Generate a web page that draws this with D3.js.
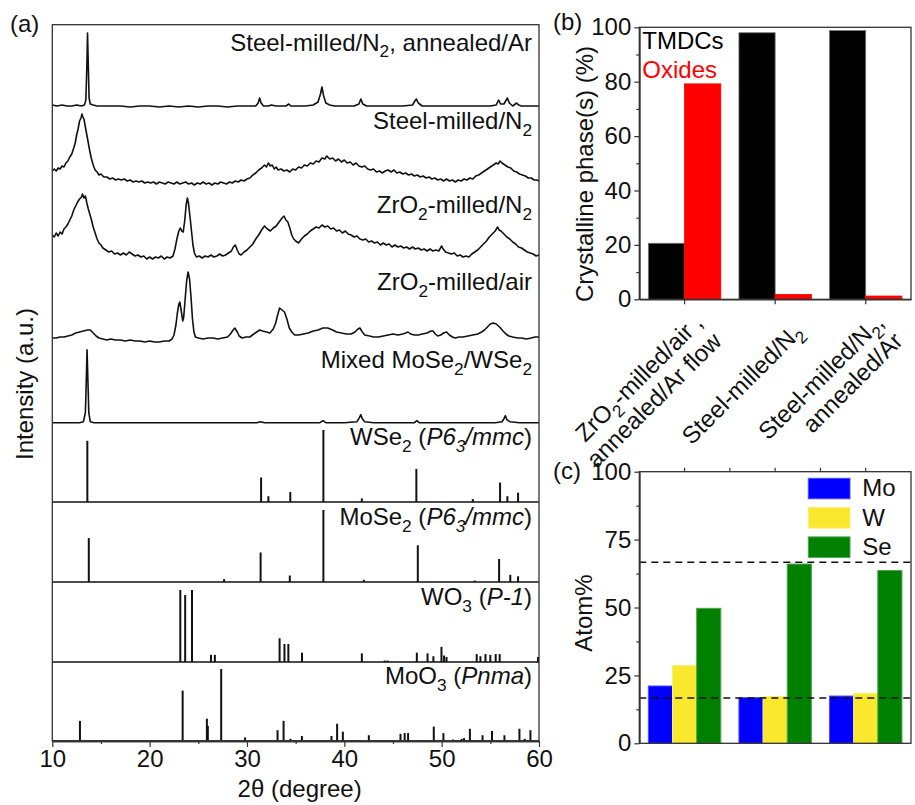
<!DOCTYPE html>
<html>
<head>
<meta charset="utf-8">
<script src="https://cdn.jsdelivr.net/npm/d3@7"></script>
<style>
  body { margin: 0; background: #fff; }
  svg { font-family: 'Liberation Sans', Arial, sans-serif; }
</style>
</head>
<body>
<div id="chart"></div>
<script>
// ---- (a) XRD patterns, [2theta, intensity a.u. above the trace's own baseline]
const annealedAr = [[10.0,1],[10.5,0],[11.0,1],[11.5,0],[12.0,0],[12.5,1],[13.0,0],[13.3,1],[13.45,6],[13.55,40],[13.62,73],[13.7,40],[13.78,8],[13.9,2],[14.2,1],[14.6,0],[15.0,0],[16.0,0],[17.0,0],[18.0,-1],[19.0,0],[20.0,0],[21.0,-1],[22.0,0],[23.0,-1],[24.0,0],[25.0,-1],[26.0,0],[27.0,0],[28.0,-1],[29.0,0],[30.0,0],[30.9,0],[31.15,3],[31.3,8],[31.45,3],[31.7,0],[32.2,0],[32.5,1],[33.0,0],[34.0,0],[34.3,2],[34.5,0],[35.0,0],[36.0,0],[36.8,1],[37.3,4],[37.55,12],[37.7,19],[37.85,11],[38.1,3],[38.5,1],[39.0,0],[40.0,0],[41.0,0],[41.5,2],[41.7,7],[41.9,2],[42.3,0],[43.0,0],[44.0,0],[45.0,0],[46.0,0],[47.0,1],[47.25,5],[47.4,7],[47.6,3],[48.0,0],[49.0,0],[50.0,0],[51.0,0],[52.0,0],[53.0,0],[54.0,0],[55.0,0],[55.6,1],[55.85,6],[56.05,2],[56.4,2],[56.75,8],[56.95,3],[57.3,0],[57.7,3],[57.9,1],[58.2,0],[59.0,0],[60.0,0]]

const steelN2 = [[10.0,10],[10.2,12],[10.4,10],[10.6,13],[10.8,12],[11.0,15],[11.2,14],[11.4,18],[11.6,20],[11.8,24],[12.0,27],[12.2,33],[12.35,38],[12.5,46],[12.65,52],[12.8,60],[12.95,63],[13.05,67],[13.15,64],[13.25,62],[13.4,54],[13.55,46],[13.7,38],[13.85,30],[14.0,23],[14.2,16],[14.4,11],[14.6,9],[14.8,6],[15.0,7],[15.3,4],[15.6,4],[15.9,2],[16.2,3],[16.5,1],[16.8,2],[17.1,1],[17.4,2],[17.7,0],[18.0,1],[18.3,-1],[18.6,0],[18.9,-1],[19.2,0],[19.5,-2],[19.8,-1],[20.1,-2],[20.4,-1],[20.7,-3],[21.0,-1],[21.3,-2],[21.6,-3],[21.9,-1],[22.2,-2],[22.5,-3],[22.8,-1],[23.1,-3],[23.4,-2],[23.7,-1],[24.0,-3],[24.3,-2],[24.6,-4],[24.9,-2],[25.2,-3],[25.5,-1],[25.8,-3],[26.1,-2],[26.4,-4],[26.7,-2],[27.0,-3],[27.3,-1],[27.6,-2],[27.9,-3],[28.2,-1],[28.5,-2],[28.8,0],[29.1,-1],[29.4,1],[29.7,0],[30.0,2],[30.3,3],[30.6,6],[30.9,8],[31.2,11],[31.5,13],[31.8,16],[32.0,14],[32.2,18],[32.4,15],[32.6,16],[32.8,12],[33.0,14],[33.2,11],[33.5,12],[33.8,10],[34.1,11],[34.4,9],[34.7,12],[35.0,11],[35.3,14],[35.6,13],[35.9,16],[36.2,15],[36.5,18],[36.8,17],[37.1,20],[37.4,19],[37.7,23],[38.0,22],[38.2,25],[38.5,22],[38.8,23],[39.1,20],[39.4,22],[39.7,19],[40.0,21],[40.3,18],[40.6,19],[40.9,16],[41.2,18],[41.5,15],[41.8,14],[42.1,15],[42.4,12],[42.7,11],[43.0,12],[43.3,9],[43.6,10],[43.9,8],[44.2,10],[44.5,11],[44.8,9],[45.1,11],[45.4,8],[45.7,9],[46.0,7],[46.3,8],[46.6,6],[46.9,7],[47.2,5],[47.5,6],[47.8,4],[48.1,5],[48.4,3],[48.7,4],[49.0,2],[49.3,3],[49.6,1],[49.9,2],[50.2,0],[50.5,2],[50.8,0],[51.1,1],[51.4,-1],[51.7,1],[52.0,0],[52.3,2],[52.6,1],[52.9,3],[53.2,2],[53.5,5],[53.8,6],[54.1,8],[54.4,10],[54.7,12],[55.0,14],[55.3,16],[55.6,18],[55.8,17],[56.0,20],[56.2,18],[56.5,16],[56.8,14],[57.1,13],[57.4,10],[57.7,9],[58.0,7],[58.3,6],[58.6,5],[58.9,3],[59.2,3],[59.5,1],[59.8,1],[60.0,0]]

const zrO2N2 = [[10.0,26],[10.2,24],[10.4,28],[10.6,25],[10.8,29],[11.0,27],[11.2,32],[11.4,34],[11.6,37],[11.8,41],[12.0,45],[12.2,51],[12.4,55],[12.6,59],[12.8,62],[13.0,64],[13.1,67],[13.25,63],[13.4,65],[13.55,58],[13.7,52],[13.85,47],[14.0,42],[14.2,34],[14.4,28],[14.6,22],[14.8,18],[15.0,16],[15.2,13],[15.5,11],[15.8,9],[16.1,10],[16.4,7],[16.7,8],[17.0,6],[17.3,8],[17.6,6],[17.9,9],[18.2,7],[18.5,5],[18.8,6],[19.1,4],[19.4,5],[19.7,2],[20.0,4],[20.3,2],[20.6,4],[20.9,3],[21.2,5],[21.5,2],[21.8,4],[22.1,3],[22.4,5],[22.6,12],[22.8,22],[23.0,30],[23.15,33],[23.3,30],[23.45,29],[23.6,40],[23.75,56],[23.88,63],[24.0,57],[24.15,44],[24.3,30],[24.45,16],[24.6,8],[24.8,4],[25.1,5],[25.4,3],[25.7,5],[26.0,4],[26.3,6],[26.6,4],[26.9,5],[27.2,7],[27.5,5],[27.8,6],[28.1,8],[28.4,10],[28.6,14],[28.8,16],[29.0,11],[29.2,7],[29.4,6],[29.7,9],[30.0,11],[30.3,14],[30.6,17],[30.9,22],[31.2,26],[31.5,31],[31.8,35],[32.1,32],[32.4,30],[32.7,33],[33.0,35],[33.3,39],[33.6,43],[33.8,45],[34.0,41],[34.2,39],[34.4,33],[34.6,26],[34.8,22],[35.0,20],[35.3,18],[35.6,22],[35.9,25],[36.2,27],[36.5,30],[36.8,32],[37.1,34],[37.4,33],[37.7,36],[38.0,34],[38.3,35],[38.6,32],[38.9,33],[39.2,30],[39.5,31],[39.8,28],[40.1,30],[40.4,27],[40.7,26],[41.0,24],[41.3,25],[41.6,22],[41.9,21],[42.2,22],[42.5,19],[42.8,20],[43.1,18],[43.4,19],[43.7,16],[44.0,18],[44.3,16],[44.6,17],[44.9,14],[45.2,16],[45.5,14],[45.8,15],[46.1,13],[46.4,14],[46.7,12],[47.0,14],[47.3,12],[47.6,13],[47.9,11],[48.2,12],[48.5,10],[48.8,12],[49.1,10],[49.4,11],[49.7,10],[50.0,15],[50.15,12],[50.4,9],[50.7,8],[51.0,7],[51.3,8],[51.6,5],[51.9,6],[52.2,4],[52.5,5],[52.8,4],[53.1,7],[53.4,9],[53.7,11],[54.0,14],[54.3,17],[54.6,20],[54.9,24],[55.2,27],[55.5,30],[55.75,34],[55.9,31],[56.1,30],[56.4,27],[56.7,24],[57.0,22],[57.3,19],[57.6,17],[57.9,14],[58.2,13],[58.5,11],[58.8,9],[59.1,8],[59.4,7],[59.7,5],[60.0,6]]

const zrO2Air = [[10.0,3],[10.4,3],[10.8,4],[11.2,4],[11.6,5],[12.0,6],[12.4,8],[12.8,9],[13.2,10],[13.6,11],[13.9,11],[14.2,8],[14.5,5],[14.8,3],[15.2,2],[15.6,1],[16.0,2],[16.5,1],[17.0,1],[17.5,0],[18.0,1],[18.5,0],[19.0,0],[19.5,-1],[20.0,0],[20.5,-1],[21.0,-1],[21.5,0],[22.0,0],[22.3,2],[22.5,6],[22.7,16],[22.85,28],[23.0,37],[23.1,39],[23.25,30],[23.4,20],[23.5,24],[23.65,42],[23.8,60],[23.95,69],[24.1,62],[24.25,44],[24.4,22],[24.55,9],[24.7,4],[25.0,3],[25.5,2],[26.0,3],[26.5,3],[27.0,2],[27.5,3],[28.0,4],[28.3,7],[28.5,10],[28.75,13],[29.0,9],[29.2,5],[29.5,3],[29.9,4],[30.3,4],[30.7,7],[31.0,9],[31.3,11],[31.6,10],[32.0,9],[32.35,8],[32.7,12],[32.95,18],[33.15,26],[33.35,33],[33.6,31],[33.85,29],[34.1,22],[34.35,13],[34.6,9],[34.9,6],[35.3,6],[35.8,7],[36.3,8],[36.8,10],[37.3,11],[37.8,13],[38.3,13],[38.8,11],[39.2,9],[39.7,8],[40.2,7],[40.7,7],[41.1,9],[41.4,12],[41.6,13],[41.85,9],[42.1,6],[42.6,5],[43.0,4],[43.5,4],[44.0,5],[44.5,6],[45.0,7],[45.5,6],[46.0,7],[46.3,8],[46.55,9],[46.8,7],[47.2,6],[47.6,6],[48.0,7],[48.5,8],[48.9,10],[49.1,10],[49.35,7],[49.6,5],[49.9,6],[50.2,8],[50.5,9],[50.8,6],[51.1,4],[51.4,3],[51.8,4],[52.2,4],[52.7,5],[53.2,6],[53.7,7],[54.1,9],[54.4,11],[54.7,14],[55.0,17],[55.3,18],[55.6,17],[55.95,14],[56.3,10],[56.6,7],[56.9,5],[57.3,4],[57.8,3],[58.2,3],[58.7,2],[59.2,3],[59.6,4],[60.0,4]]

const mixedSe2 = [[10.0,0],[11.0,0],[12.0,0],[12.8,0],[13.2,1],[13.4,10],[13.5,45],[13.57,73],[13.65,45],[13.75,10],[13.9,1],[14.3,0],[15.0,0],[17.0,0],[19.0,0],[21.0,0],[23.0,0],[25.0,0],[27.0,0],[29.0,0],[31.0,0],[31.4,1],[31.8,0],[34.0,0],[37.5,0],[37.8,2],[38.1,0],[40.0,0],[41.3,1],[41.55,5],[41.7,8],[41.85,4],[42.1,1],[43.0,0],[45.0,0],[47.2,0],[47.45,2],[47.7,0],[50.0,0],[53.0,0],[55.5,0],[56.2,1],[56.4,4],[56.55,7],[56.7,3],[57.0,1],[58.0,0],[60.0,0]]

// reference patterns, [2theta, relative intensity %]
const wse2Ref = [[13.6,85],[31.45,34],[32.2,8],[34.45,14],[37.85,100],[41.8,5],[47.4,46],[53.2,4],[56.0,27],[56.75,8],[57.85,13]]
const mose2Ref = [[13.75,61],[27.65,4],[31.4,41],[34.4,9],[37.85,100],[42.0,3],[47.55,51],[53.4,2],[55.9,32],[57.05,10],[57.85,8]]
const wo3Ref = [[23.15,100],[23.65,93],[24.35,100],[26.3,10],[26.7,10],[33.35,33],[33.85,25],[34.25,25],[35.65,13],[41.8,12],[44.15,2],[44.45,2],[47.45,13],[48.55,12],[49.15,8],[49.98,21],[50.25,9],[50.5,7],[53.6,11],[53.98,8],[54.5,11],[55.0,10],[55.55,11],[55.96,11],[59.9,7]]
const moo3Ref = [[12.84,28],[23.39,70],[25.88,31],[25.98,21],[27.35,100],[29.8,5],[33.14,15],[33.76,28],[34.47,3],[35.64,7],[38.68,7],[39.26,24],[39.85,13],[42.52,8],[45.77,10],[46.2,11],[46.55,11],[49.19,20],[50.18,11],[51.17,2],[52.06,3],[52.3,4],[52.9,17],[54.2,8],[55.17,14],[56.45,8],[57.99,17],[58.53,3],[59.12,15]]

const xTicksA = [10, 20, 30, 40, 50, 60]

// ---- (b) crystalline phases
const sampleIds = ['zrAirAr', 'steelN2', 'steelN2Ar']
const sampleLines = [['ZrO_2-milled/air ,', 'annealed/Ar flow'], ['Steel-milled/N_2'], ['Steel-milled/N_2,', 'annealed/Ar']]
const tmdcPct = [20.6, 98.0, 98.8]
const oxidePct = [79.2, 1.8, 1.2]
const yTicksB = [0, 20, 40, 60, 80, 100]

// ---- (c) composition
const moPct = [21.1, 16.8, 17.4]
const wPct = [28.6, 17.2, 18.4]
const sePct = [49.7, 66.0, 63.6]
const idealPct = [66.67, 16.67]
const yTicksC = [0, 25, 50, 75, 100]

const FS = 24
const ink = '#111'

const svg = d3.select('#chart').append('svg').attr('width', 915).attr('height', 805)

function parseRich(s) {
  const parts = []
  let it = false
  for (let i = 0; i < s.length; i++) {
    const c = s[i]
    if (c === '*') { it = !it; continue }
    if (c === '_') { parts.push({ t: s[++i], sub: true, it }); continue }
    const last = parts[parts.length - 1]
    if (last && !last.sub && last.it === it) last.t += c
    else parts.push({ t: c, sub: false, it })
  }
  return parts
}

function rich(text, s) {
  const parts = parseRich(s)
  let shifted = false
  parts.forEach(p => {
    let dy = 0
    if (p.sub && !shifted) { dy = 0.28 * FS; shifted = true }
    if (!p.sub && shifted) { dy = -0.28 * FS; shifted = false }
    text.append('tspan')
      .text(p.t)
      .attr('dy', dy)
      .attr('font-size', p.sub ? FS * 0.72 : FS)
      .attr('font-style', p.it ? 'italic' : null)
  })
  return text
}

// ================= (a)
const a = { left: 52.3, right: 539, top: 24.7, bottom: 741 }
const xA = d3.scaleLinear().domain([10, 60]).range([a.left, a.right])
const yA = d3.scaleLinear().domain([0, 716.3]).range([a.bottom, a.top])
const stickScale = 0.72

const traces = [
  { data: annealedAr, offset: 635, label: 'Steel-milled/N_2, annealed/Ar', ly: 50.7 },
  { data: steelN2, offset: 560, label: 'Steel-milled/N_2', ly: 129.3 },
  { data: zrO2N2, offset: 480, label: 'ZrO_2-milled/N_2', ly: 213.3 },
  { data: zrO2Air, offset: 400, label: 'ZrO_2-milled/air', ly: 290 },
  { data: mixedSe2, offset: 318.3, label: 'Mixed MoSe_2/WSe_2', ly: 368.3 }
]
const refs = [
  { data: wse2Ref, offset: 239, label: 'WSe_2 (*P6_3/mmc*)', ly: 445 },
  { data: mose2Ref, offset: 159, label: 'MoSe_2 (*P6_3/mmc*)', ly: 525 },
  { data: wo3Ref, offset: 79, label: 'WO_3 (*P-1*)', ly: 605 },
  { data: moo3Ref, offset: 0, label: 'MoO_3 (*Pnma*)', ly: 684.3 }
]

const gA = svg.append('g')

traces.forEach(tr => {
  const line = d3.line()
    .x(d => xA(d[0]))
    .y(d => yA(d[1] + tr.offset))
  gA.append('path')
    .datum(tr.data)
    .attr('d', line)
    .attr('fill', 'none')
    .attr('stroke', ink)
    .attr('stroke-width', 1.6)
    .attr('stroke-linejoin', 'round')
})

refs.forEach(rf => {
  gA.append('line')
    .attr('x1', xA(10)).attr('x2', xA(60))
    .attr('y1', yA(rf.offset)).attr('y2', yA(rf.offset))
    .attr('stroke', ink).attr('stroke-width', 1.5)
  gA.selectAll(null)
    .data(rf.data)
    .enter()
    .append('line')
    .attr('x1', d => xA(d[0])).attr('x2', d => xA(d[0]))
    .attr('y1', yA(rf.offset))
    .attr('y2', d => yA(rf.offset + d[1] * stickScale))
    .attr('stroke', ink)
    .attr('stroke-width', 2)
})

traces.concat(refs).forEach(tr => {
  rich(gA.append('text')
    .attr('x', 532).attr('y', tr.ly)
    .attr('text-anchor', 'end')
    .attr('fill', ink)
    .style('white-space', 'pre'), tr.label)
})

// frame
gA.append('rect')
  .attr('x', a.left).attr('y', a.top)
  .attr('width', a.right - a.left).attr('height', a.bottom - a.top)
  .attr('fill', 'none').attr('stroke', '#333').attr('stroke-width', 1.3)

const xAxisA = d3.axisBottom(xA).tickValues(xTicksA).tickSize(6).tickPadding(3).tickSizeOuter(0).tickFormat(d3.format('d'))
gA.append('g')
  .attr('class', 'axis')
  .attr('transform', 'translate(0,' + a.bottom + ')')
  .call(xAxisA)
gA.append('g')
  .attr('class', 'axis minor')
  .attr('transform', 'translate(0,' + a.bottom + ')')
  .call(d3.axisBottom(xA).tickValues([15, 25, 35, 45, 55]).tickSize(3).tickSizeOuter(0).tickFormat(''))

gA.append('text')
  .attr('x', (a.left + a.right) / 2 + 4).attr('y', 797)
  .attr('text-anchor', 'middle').attr('font-size', FS).attr('fill', ink)
  .text('2θ (degree)')
gA.append('text')
  .attr('transform', 'translate(33,384) rotate(-90)')
  .attr('text-anchor', 'middle').attr('font-size', FS).attr('fill', ink)
  .text('Intensity (a.u.)')
gA.append('text')
  .attr('x', 10).attr('y', 31.5).attr('font-size', FS).attr('fill', ink)
  .text('(a)')

// ================= (b)
const b = { left: 639.3, right: 911, top: 27.3, bottom: 299.3 }
const xB = d3.scaleBand().domain(sampleIds).range([b.left, b.right])
const bw = xB.bandwidth()
const xB1 = d3.scaleBand().domain(['TMDCs', 'Oxides']).range([bw * 0.1, bw * 0.9])
const yB = d3.scaleLinear().domain([0, 100]).range([b.bottom, b.top])
const gB = svg.append('g')

const phaseSeries = [
  { key: 'TMDCs', values: tmdcPct, color: '#000', stroke: '#777' },
  { key: 'Oxides', values: oxidePct, color: '#ff0000', stroke: '#ff0000' }
]
phaseSeries.forEach(s => {
  gB.selectAll(null)
    .data(s.values)
    .enter()
    .append('rect')
    .attr('x', (d, i) => xB(sampleIds[i]) + xB1(s.key))
    .attr('width', xB1.bandwidth())
    .attr('y', d => yB(d))
    .attr('height', d => yB(0) - yB(d))
    .attr('fill', s.color)
    .attr('stroke', s.stroke)
    .attr('stroke-width', 0.8)
})

gB.append('rect')
  .attr('x', b.left).attr('y', b.top)
  .attr('width', b.right - b.left).attr('height', b.bottom - b.top)
  .attr('fill', 'none').attr('stroke', '#333').attr('stroke-width', 1.3)

gB.append('g')
  .attr('transform', 'translate(' + b.left + ',0)')
  .call(d3.axisLeft(yB).tickValues(yTicksB).tickSize(5).tickPadding(3).tickSizeOuter(0))
gB.append('g')
  .attr('transform', 'translate(' + b.left + ',0)')
  .call(d3.axisLeft(yB).tickValues([10, 30, 50, 70, 90]).tickSize(3).tickSizeOuter(0).tickFormat(''))
gB.append('g')
  .attr('transform', 'translate(0,' + b.bottom + ')')
  .call(d3.axisBottom(xB).tickSize(5).tickSizeOuter(0).tickFormat(''))

sampleIds.forEach((id, i) => {
  const lines = sampleLines[i]
  const g = gB.append('g')
    .attr('transform', 'translate(' + (xB(id) + bw / 2 + 29) + ',' + (b.bottom + 34) + ') rotate(-45)')
  lines.forEach((ln, j) => {
    rich(g.append('text')
      .attr('x', 0)
      .attr('y', (j - (lines.length - 1) / 2) * FS * 1.1)
      .attr('text-anchor', 'end')
      .attr('fill', ink)
      .style('white-space', 'pre'), ln)
  })
})

gB.append('text').attr('transform', 'translate(593,174) rotate(-90)')
  .attr('text-anchor', 'middle').attr('font-size', FS).attr('fill', ink)
  .text('Crystalline phase(s) (%)')
gB.append('text').attr('x', 642.3).attr('y', 49.3).attr('font-size', FS).attr('fill', '#000').text('TMDCs')
gB.append('text').attr('x', 642.3).attr('y', 78.3).attr('font-size', FS).attr('fill', '#ff0000').text('Oxides')
gB.append('text').attr('x', 553).attr('y', 30).attr('font-size', FS).attr('fill', ink).text('(b)')

// ================= (c)
const c = { left: 639.3, right: 911, top: 471.7, bottom: 743.3 }
const xC = d3.scaleBand().domain(sampleIds).range([c.left, c.right])
const elements = ['Mo', 'W', 'Se']
const xC1 = d3.scaleBand().domain(elements).range([bw * 0.1, bw * 0.9])
const yC = d3.scaleLinear().domain([0, 100]).range([c.bottom, c.top])
const gC = svg.append('g')

const elemSeries = [
  { key: 'Mo', values: moPct, color: '#0000ff', stroke: '#4d4dff' },
  { key: 'W', values: wPct, color: '#f9e82d', stroke: '#fbee70' },
  { key: 'Se', values: sePct, color: '#008000', stroke: '#4da64d' }
]
elemSeries.forEach(s => {
  gC.selectAll(null)
    .data(s.values)
    .enter()
    .append('rect')
    .attr('x', (d, i) => xC(sampleIds[i]) + xC1(s.key))
    .attr('width', xC1.bandwidth())
    .attr('y', d => yC(d))
    .attr('height', d => yC(0) - yC(d))
    .attr('fill', s.color)
    .attr('stroke', s.stroke)
    .attr('stroke-width', 1)
})

gC.selectAll(null)
  .data(idealPct)
  .enter()
  .append('line')
  .attr('x1', c.left).attr('x2', c.right)
  .attr('y1', d => yC(d)).attr('y2', d => yC(d))
  .attr('stroke', ink).attr('stroke-width', 1.5)
  .attr('stroke-dasharray', '7,5')

gC.append('rect')
  .attr('x', c.left).attr('y', c.top)
  .attr('width', c.right - c.left).attr('height', c.bottom - c.top)
  .attr('fill', 'none').attr('stroke', '#333').attr('stroke-width', 1.3)

gC.append('g')
  .attr('transform', 'translate(' + c.left + ',0)')
  .call(d3.axisLeft(yC).tickValues(yTicksC).tickSize(5).tickPadding(3).tickSizeOuter(0))
gC.append('g')
  .attr('transform', 'translate(' + c.left + ',0)')
  .call(d3.axisLeft(yC).tickValues([12.5, 37.5, 62.5, 87.5]).tickSize(3).tickSizeOuter(0).tickFormat(''))
// ticks on the top edge: centres and boundaries of the groups
const topTicks = sampleIds.map(id => xC(id) + bw / 2).concat(sampleIds.slice(1).map(id => xC(id)))
gC.selectAll(null)
  .data(topTicks)
  .enter()
  .append('line')
  .attr('x1', d => d).attr('x2', d => d)
  .attr('y1', c.top).attr('y2', c.top - 4)
  .attr('stroke', '#333').attr('stroke-width', 1.2)

const legend = gC.selectAll('.legend')
  .data(elemSeries)
  .enter()
  .append('g')
  .attr('transform', (d, i) => 'translate(808.3,' + (478.3 + i * 29.3) + ')')
legend.append('rect')
  .attr('width', 41.7).attr('height', 20.5)
  .attr('fill', d => d.color).attr('stroke', d => d.stroke)
legend.append('text')
  .attr('x', 54).attr('y', 18)
  .attr('font-size', FS).attr('fill', ink)
  .text(d => d.key)

gC.append('text').attr('transform', 'translate(592,613) rotate(-90)')
  .attr('text-anchor', 'middle').attr('font-size', FS).attr('fill', ink)
  .text('Atom%')
gC.append('text').attr('x', 553).attr('y', 479.3).attr('font-size', FS).attr('fill', ink).text('(c)')

// axis styling
svg.selectAll('.tick text').attr('font-size', FS).attr('fill', ink).attr('font-family', 'Liberation Sans, Arial, sans-serif')
svg.selectAll('.domain').attr('stroke', '#333').attr('stroke-width', 1.3)
svg.selectAll('.tick line').attr('stroke', '#333').attr('stroke-width', 1.2)
</script>
</body>
</html>
